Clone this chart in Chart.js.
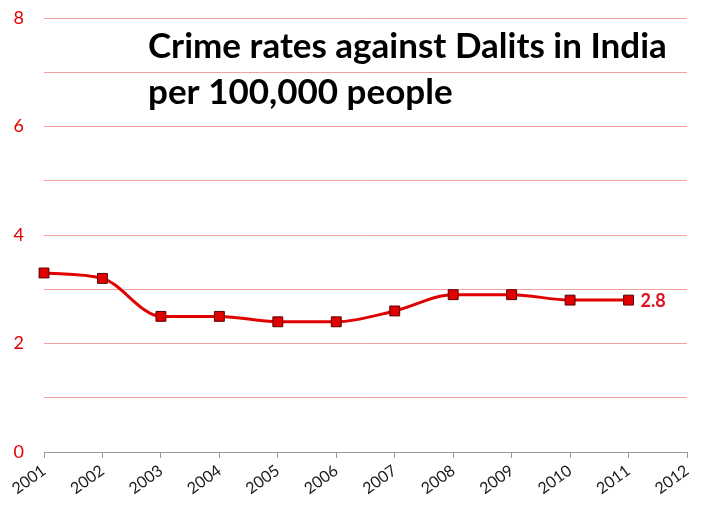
<!DOCTYPE html>
<html>
<head>
<meta charset="utf-8">
<script src="https://cdn.jsdelivr.net/npm/chart.js@4/dist/chart.umd.min.js"></script>
<style>
  html, body { margin: 0; padding: 0; background: #fff; }
  #wrap { width: 720px; height: 512px; }
</style>
</head>
<body>
<div id="wrap"><canvas id="crime-chart" width="720" height="512"></canvas></div>
<script>
var years = ['2001', '2002', '2003', '2004', '2005', '2006', '2007', '2008', '2009', '2010', '2011', '2012'];
var rates = [3.3, 3.2, 2.5, 2.5, 2.4, 2.4, 2.6, 2.9, 2.9, 2.8, 2.8, null];
var titleLines = ['Crime rates against Dalits in India', 'per 100,000 people'];

// title sits inside the plot, plus the value label on the last point
var overlay = {
  id: 'overlay',
  afterDatasetsDraw: function(chart) {
    var c = chart.ctx;
    var area = chart.chartArea;
    c.save();
    c.fillStyle = '#000';
    c.font = 'bold 35px Lato, "Open Sans", sans-serif';
    c.textBaseline = 'alphabetic';
    c.fillText(titleLines[0], area.left + 104, 58);
    c.fillText(titleLines[1], area.left + 104, 104);

    var meta = chart.getDatasetMeta(0);
    var last = 0;
    for (var i = 0; i < rates.length; i++) {
      if (rates[i] !== null) last = i;
    }
    var pt = meta.data[last];
    c.fillStyle = '#e0101a';
    c.font = 'bold 18px Lato, "Open Sans", sans-serif';
    c.textBaseline = 'middle';
    c.fillText(rates[last].toFixed(1), pt.x + 12, pt.y + 1);
    c.restore();
  }
};

var ctx = document.getElementById('crime-chart');
var crimeChart = new Chart(ctx, {
  type: 'line',
  data: {
    labels: years,
    datasets: [{
      data: rates,
      borderColor: '#e00000',
      borderWidth: 3,
      backgroundColor: '#e00000',
      cubicInterpolationMode: 'monotone',
      pointStyle: 'rect',
      pointRadius: 7,
      pointBorderColor: '#5a0000',
      pointBorderWidth: 1,
      pointBackgroundColor: '#e00000',
      spanGaps: false
    }]
  },
  options: {
    responsive: false,
    animation: false,
    devicePixelRatio: 1,
    layout: { padding: { top: 18, right: 33, left: 0, bottom: 0 } },
    plugins: {
      legend: { display: false },
      tooltip: { enabled: false }
    },
    scales: {
      x: {
        type: 'category',
        offset: false,
        afterFit: function(scale) { scale.height = 60; },
        grid: {
          drawOnChartArea: false,
          drawTicks: true,
          tickLength: 6,
          color: '#999'
        },
        border: { color: '#999', width: 1 },
        ticks: {
          autoSkip: false,
          minRotation: 36,
          maxRotation: 36,
          color: '#1a1a1a',
          padding: 3,
          font: { family: 'Lato, "Open Sans", sans-serif', size: 16 }
        }
      },
      y: {
        min: 0,
        max: 8,
        // fixed width; the wide label padding must not push the plot top down
        afterFit: function(scale) {
          scale.width = 44;
          scale.paddingTop = 0;
          scale.paddingBottom = 0;
        },
        grid: {
          color: '#f4a0a0',
          drawTicks: false
        },
        border: { display: false },
        ticks: {
          stepSize: 1,
          color: '#e00000',
          padding: 20,
          font: { family: 'Lato, "Open Sans", sans-serif', size: 18 },
          callback: function(v) { return v % 2 === 0 ? v : ''; }
        }
      }
    }
  },
  plugins: [overlay]
});
</script>
</body>
</html>
